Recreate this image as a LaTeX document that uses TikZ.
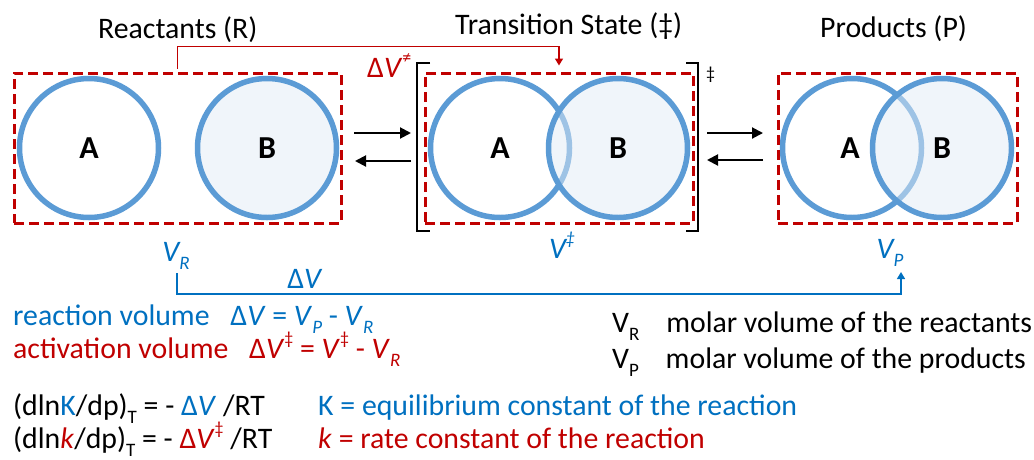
\documentclass[tikz,border=0pt]{standalone}
\usepackage{fontspec}
\setmainfont{Carlito}
\usetikzlibrary{arrows.meta}
\definecolor{rxnblue}{HTML}{0070C0}
\definecolor{actred}{HTML}{C00000}
\definecolor{ring}{HTML}{5B9BD5}
\definecolor{bfill}{HTML}{E2ECF6}
\newcommand{\lowix}[1]{\raisebox{-0.3em}{\fontsize{19}{19}\selectfont #1}}
\newcommand{\upix}[1]{\raisebox{0.45em}{\fontsize{18}{18}\selectfont #1}}

\begin{document}
\begin{tikzpicture}[x=1pt, y=-1pt,
    ball/.style={circle, draw=ring, line width=5.5pt, minimum size=139pt, inner sep=0pt,
        font=\fontsize{32}{32}\selectfont\bfseries},
    ballA/.style={ball, fill=white},
    ballB/.style={ball, fill=bfill, fill opacity=0.5, text opacity=1},
    cage/.style={draw=actred, line width=3pt, dash pattern=on 10pt off 5pt,
        minimum height=150pt, inner sep=0pt},
    txt/.style={anchor=base west, inner sep=0pt, font=\fontsize{29.8}{35}\selectfont},
    vlab/.style={anchor=base, inner sep=0pt, text=rxnblue, font=\fontsize{29.8}{35}\selectfont\itshape},
    eqarrow/.style={line width=2pt, -{Triangle[length=11pt,width=11pt]}},
    link/.style={line width=1.5pt, -{Triangle[length=7pt,width=8pt]}}]
    \useasboundingbox (0,0) rectangle (1034,459);
    %%% Reactants
    \node[txt] (rtitle) at (98,38) {Reactants (R)};
    \node[ballA] (ra) at (89,148) {A};
    \node[ballB] (rb) at (267,148) {B};
    \node[cage, minimum width=327pt] (rbox) at (177.5,148) {};
    %
    \draw[eqarrow] (354,133) -- (411,133);
    \draw[eqarrow] (411,161) -- (355,161);
    %%% Transition state
    \node[txt] (ttitle) at (455,34) {Transition State (‡)};
    \node[ballA] (ta) at (500,148) {A};
    \node[ballB] (tb) at (618,148) {B};
    \node[cage, minimum width=268pt] (tbox) at (559,148) {};
    \draw[line width=1.5pt] (430,63) -- (417,63) -- (417,231) -- (430,231); % brackets
    \draw[line width=1.5pt] (686,63) -- (698,63) -- (698,231) -- (686,231);
    \node[anchor=base west, inner sep=0pt, font=\fontsize{18}{18}\selectfont] (dag) at (706,79) {‡};
    %
    \draw[eqarrow] (707,133) -- (763,133);
    \draw[eqarrow] (763,160) -- (707,160);
    %%% Products
    \node[txt] (ptitle) at (820,37) {Products (P)};
    \node[ballA] (pa) at (852,148) {};
    \node[ballB] (pb) at (942,148) {B};
    \node[anchor=center, font=\fontsize{32}{32}\selectfont\bfseries] at (850,148) {A};
    \node[cage, minimum width=239pt] (pbox) at (897.5,148) {};
    %%% activation volume link
    \node[txt, text=actred] (dvact) at (367,77) {Δ\textit{V}\upix{≠}};
    \draw[link, actred] ([yshift=3pt]rbox.north) -- ++(0,-22) -| ([yshift=6pt]tbox.north);
    %%% molar volumes and reaction volume link
    \node[vlab] (vr) at (176,261) {V\lowix{R}};
    \node[vlab] (vts) at (562,258) {V\upix{‡}};
    \node[vlab] (vp) at (890,258) {V\lowix{P}};
    \coordinate (vrfoot) at (177,273);
    \coordinate (vpfoot) at (901,272);
    \draw[link, rxnblue] (vrfoot) -- ++(0,21) -| (vpfoot);
    \node[vlab, font=\fontsize{29.8}{35}\selectfont] (dv) at (305,288) {Δ\textit{V}};
    %%% definitions
    \node[txt, text=rxnblue] (rxnvol) at (13,325) {reaction volume\hspace{0.7em}Δ\textit{V} = \textit{V}\lowix{\textit{P}} - \textit{V}\lowix{\textit{R}}};
    \node[txt, text=actred] (actvol) at (13,358) {activation volume\hspace{0.7em}Δ\textit{V}\upix{‡} = \textit{V}\upix{‡} - \textit{V}\lowix{\textit{R}}};
    \node[txt] (vrdef) at (612,332) {V\lowix{R}\hspace{0.9em}molar volume of the reactants};
    \node[txt] (vpdef) at (612,368) {V\lowix{P}\hspace{0.9em}molar volume of the products};
    \node[txt] (eqK) at (13,415) {(dln\textcolor{rxnblue}{K}/dp)\lowix{T} = - \textcolor{rxnblue}{Δ\textit{V}} /RT};
    \node[txt] (eqk) at (13,448) {(dln\textcolor{actred}{\textit{k}}/dp)\lowix{T} = - \textcolor{actred}{Δ\textit{V}\upix{‡}} /RT};
    \node[txt, text=rxnblue] (Kdef) at (318,415) {K = equilibrium constant of the reaction};
    \node[txt, text=actred] (kdef) at (318,448) {\textit{k} = rate constant of the reaction};
\end{tikzpicture}
\end{document}
